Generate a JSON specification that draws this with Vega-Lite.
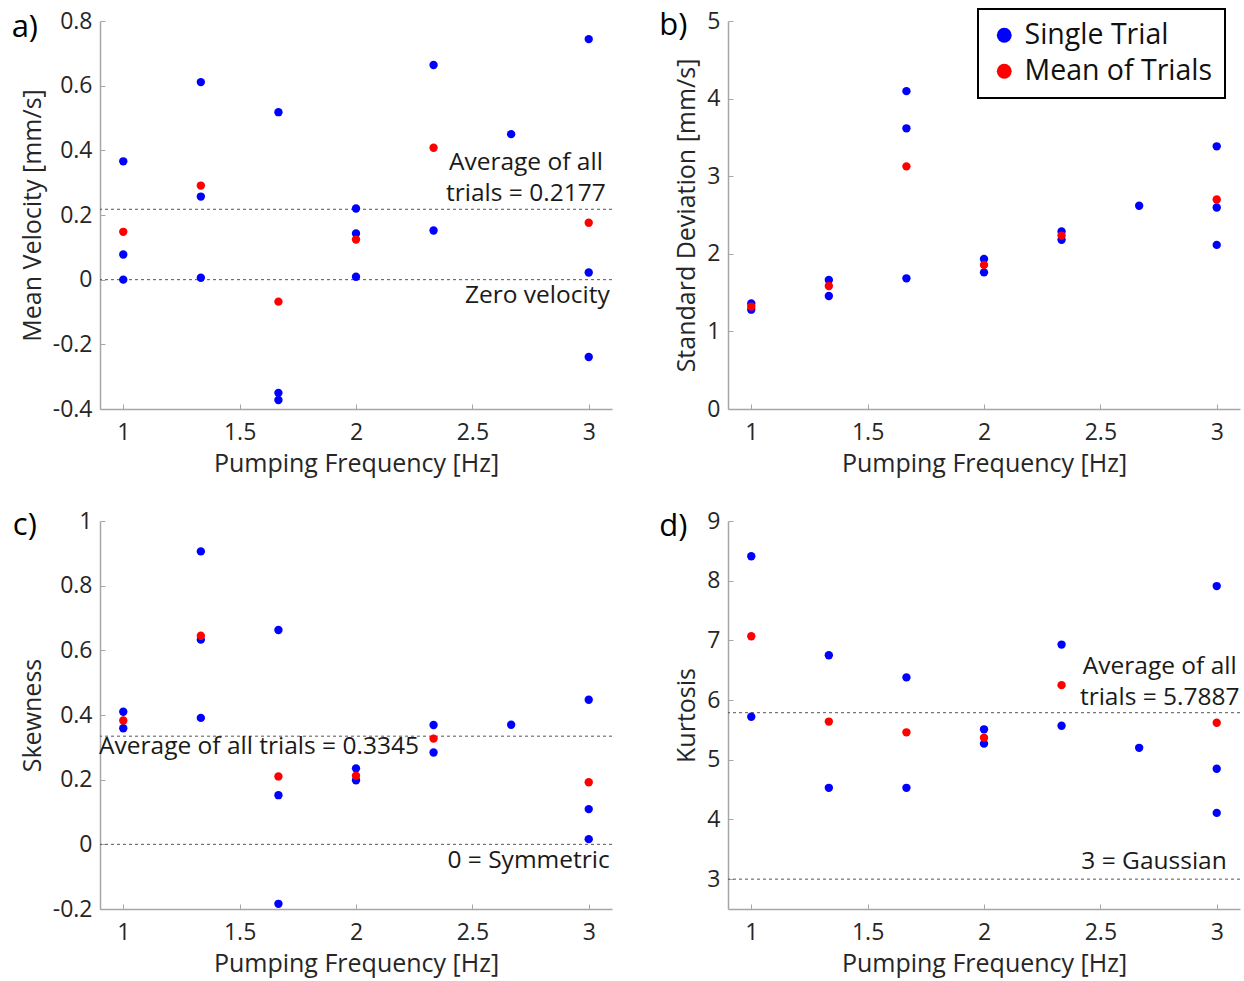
{
  "$schema": "https://vega.github.io/schema/vega-lite/v6.json",
  "autosize": {"type": "pad"},
  "padding": {"left": 11, "top": 8, "right": 4, "bottom": 4},
  "background": "white",
  "bounds": "flush",
  "columns": 2,
  "spacing": {"row": 112, "column": 116},
  "config": {
    "view": {"stroke": null},
    "font": "Open Sans",
    "axis": {
      "grid": false,
      "domainColor": "#a6a6a6",
      "domainWidth": 1.5,
      "tickColor": "#a6a6a6",
      "tickWidth": 1,
      "tickSize": -5,
      "labelColor": "#262626",
      "titleColor": "#262626",
      "labelFont": "Open Sans",
      "titleFont": "Open Sans",
      "labelFontSize": 23,
      "titleFontSize": 25,
      "titleFontWeight": "normal",
      "labelExpr": "replace(format(datum.value, '.1~f'), '\u2212', '-')"
    },
    "axisX": {"labelPadding": 17, "titlePadding": 7},
    "axisY": {"labelPadding": 13, "titlePadding": 7},
    "legend": {
      "labelFont": "Open Sans",
      "labelFontSize": 28.5,
      "labelColor": "#111111",
      "labelLimit": 400,
      "symbolType": "circle",
      "symbolSize": 220,
      "symbolStrokeWidth": 0,
      "symbolOpacity": 1,
      "strokeColor": "#000000",
      "strokeWidth": 2,
      "padding": 12,
      "rowPadding": 7,
      "labelOffset": 6
    }
  },
  "datasets": {
    "trials": [
      {"panel": "a", "f": 1, "v": 0.366, "kind": "Single Trial"},
      {"panel": "a", "f": 1, "v": 0.078, "kind": "Single Trial"},
      {"panel": "a", "f": 1, "v": 0.0, "kind": "Single Trial"},
      {"panel": "a", "f": 1.3333, "v": 0.611, "kind": "Single Trial"},
      {"panel": "a", "f": 1.3333, "v": 0.257, "kind": "Single Trial"},
      {"panel": "a", "f": 1.3333, "v": 0.006, "kind": "Single Trial"},
      {"panel": "a", "f": 1.6667, "v": 0.518, "kind": "Single Trial"},
      {"panel": "a", "f": 1.6667, "v": -0.350, "kind": "Single Trial"},
      {"panel": "a", "f": 1.6667, "v": -0.372, "kind": "Single Trial"},
      {"panel": "a", "f": 2, "v": 0.220, "kind": "Single Trial"},
      {"panel": "a", "f": 2, "v": 0.143, "kind": "Single Trial"},
      {"panel": "a", "f": 2, "v": 0.009, "kind": "Single Trial"},
      {"panel": "a", "f": 2.3333, "v": 0.664, "kind": "Single Trial"},
      {"panel": "a", "f": 2.3333, "v": 0.152, "kind": "Single Trial"},
      {"panel": "a", "f": 2.6667, "v": 0.450, "kind": "Single Trial"},
      {"panel": "a", "f": 3, "v": 0.744, "kind": "Single Trial"},
      {"panel": "a", "f": 3, "v": 0.022, "kind": "Single Trial"},
      {"panel": "a", "f": 3, "v": -0.239, "kind": "Single Trial"},
      {"panel": "a", "f": 1, "v": 0.148, "kind": "Mean of Trials"},
      {"panel": "a", "f": 1.3333, "v": 0.291, "kind": "Mean of Trials"},
      {"panel": "a", "f": 1.6667, "v": -0.068, "kind": "Mean of Trials"},
      {"panel": "a", "f": 2, "v": 0.124, "kind": "Mean of Trials"},
      {"panel": "a", "f": 2.3333, "v": 0.408, "kind": "Mean of Trials"},
      {"panel": "a", "f": 3, "v": 0.176, "kind": "Mean of Trials"},

      {"panel": "b", "f": 1, "v": 1.36, "kind": "Single Trial"},
      {"panel": "b", "f": 1, "v": 1.28, "kind": "Single Trial"},
      {"panel": "b", "f": 1.3333, "v": 1.663, "kind": "Single Trial"},
      {"panel": "b", "f": 1.3333, "v": 1.456, "kind": "Single Trial"},
      {"panel": "b", "f": 1.6667, "v": 4.096, "kind": "Single Trial"},
      {"panel": "b", "f": 1.6667, "v": 3.617, "kind": "Single Trial"},
      {"panel": "b", "f": 1.6667, "v": 1.684, "kind": "Single Trial"},
      {"panel": "b", "f": 2, "v": 1.934, "kind": "Single Trial"},
      {"panel": "b", "f": 2, "v": 1.761, "kind": "Single Trial"},
      {"panel": "b", "f": 2.3333, "v": 2.287, "kind": "Single Trial"},
      {"panel": "b", "f": 2.3333, "v": 2.18, "kind": "Single Trial"},
      {"panel": "b", "f": 2.6667, "v": 2.619, "kind": "Single Trial"},
      {"panel": "b", "f": 3, "v": 3.385, "kind": "Single Trial"},
      {"panel": "b", "f": 3, "v": 2.597, "kind": "Single Trial"},
      {"panel": "b", "f": 3, "v": 2.115, "kind": "Single Trial"},
      {"panel": "b", "f": 1, "v": 1.32, "kind": "Mean of Trials"},
      {"panel": "b", "f": 1.3333, "v": 1.585, "kind": "Mean of Trials"},
      {"panel": "b", "f": 1.6667, "v": 3.127, "kind": "Mean of Trials"},
      {"panel": "b", "f": 2, "v": 1.857, "kind": "Mean of Trials"},
      {"panel": "b", "f": 2.3333, "v": 2.235, "kind": "Mean of Trials"},
      {"panel": "b", "f": 3, "v": 2.70, "kind": "Mean of Trials"},

      {"panel": "c", "f": 1, "v": 0.41, "kind": "Single Trial"},
      {"panel": "c", "f": 1, "v": 0.359, "kind": "Single Trial"},
      {"panel": "c", "f": 1.3333, "v": 0.906, "kind": "Single Trial"},
      {"panel": "c", "f": 1.3333, "v": 0.633, "kind": "Single Trial"},
      {"panel": "c", "f": 1.3333, "v": 0.391, "kind": "Single Trial"},
      {"panel": "c", "f": 1.6667, "v": 0.663, "kind": "Single Trial"},
      {"panel": "c", "f": 1.6667, "v": 0.152, "kind": "Single Trial"},
      {"panel": "c", "f": 1.6667, "v": -0.184, "kind": "Single Trial"},
      {"panel": "c", "f": 2, "v": 0.235, "kind": "Single Trial"},
      {"panel": "c", "f": 2, "v": 0.198, "kind": "Single Trial"},
      {"panel": "c", "f": 2.3333, "v": 0.369, "kind": "Single Trial"},
      {"panel": "c", "f": 2.3333, "v": 0.284, "kind": "Single Trial"},
      {"panel": "c", "f": 2.6667, "v": 0.37, "kind": "Single Trial"},
      {"panel": "c", "f": 3, "v": 0.447, "kind": "Single Trial"},
      {"panel": "c", "f": 3, "v": 0.109, "kind": "Single Trial"},
      {"panel": "c", "f": 3, "v": 0.016, "kind": "Single Trial"},
      {"panel": "c", "f": 1, "v": 0.383, "kind": "Mean of Trials"},
      {"panel": "c", "f": 1.3333, "v": 0.645, "kind": "Mean of Trials"},
      {"panel": "c", "f": 1.6667, "v": 0.21, "kind": "Mean of Trials"},
      {"panel": "c", "f": 2, "v": 0.212, "kind": "Mean of Trials"},
      {"panel": "c", "f": 2.3333, "v": 0.327, "kind": "Mean of Trials"},
      {"panel": "c", "f": 3, "v": 0.192, "kind": "Mean of Trials"},

      {"panel": "d", "f": 1, "v": 8.41, "kind": "Single Trial"},
      {"panel": "d", "f": 1, "v": 5.72, "kind": "Single Trial"},
      {"panel": "d", "f": 1.3333, "v": 6.75, "kind": "Single Trial"},
      {"panel": "d", "f": 1.3333, "v": 4.53, "kind": "Single Trial"},
      {"panel": "d", "f": 1.6667, "v": 6.38, "kind": "Single Trial"},
      {"panel": "d", "f": 1.6667, "v": 4.53, "kind": "Single Trial"},
      {"panel": "d", "f": 2, "v": 5.51, "kind": "Single Trial"},
      {"panel": "d", "f": 2, "v": 5.27, "kind": "Single Trial"},
      {"panel": "d", "f": 2.3333, "v": 6.93, "kind": "Single Trial"},
      {"panel": "d", "f": 2.3333, "v": 5.57, "kind": "Single Trial"},
      {"panel": "d", "f": 2.6667, "v": 5.20, "kind": "Single Trial"},
      {"panel": "d", "f": 3, "v": 7.91, "kind": "Single Trial"},
      {"panel": "d", "f": 3, "v": 4.85, "kind": "Single Trial"},
      {"panel": "d", "f": 3, "v": 4.11, "kind": "Single Trial"},
      {"panel": "d", "f": 1, "v": 7.07, "kind": "Mean of Trials"},
      {"panel": "d", "f": 1.3333, "v": 5.64, "kind": "Mean of Trials"},
      {"panel": "d", "f": 1.6667, "v": 5.46, "kind": "Mean of Trials"},
      {"panel": "d", "f": 2, "v": 5.37, "kind": "Mean of Trials"},
      {"panel": "d", "f": 2.3333, "v": 6.25, "kind": "Mean of Trials"},
      {"panel": "d", "f": 3, "v": 5.62, "kind": "Mean of Trials"}
    ],
    "refs": [
      {"panel": "a", "v": 0.2177},
      {"panel": "a", "v": 0},
      {"panel": "c", "v": 0.3345},
      {"panel": "c", "v": 0},
      {"panel": "d", "v": 5.7887},
      {"panel": "d", "v": 3}
    ],
    "one": [{}]
  },
  "concat": [
    {
      "width": 512,
      "height": 388,
      "layer": [
        {
          "data": {"name": "refs"},
          "transform": [{"filter": "datum.panel === 'a'"}],
          "mark": {"type": "rule", "strokeDash": [3, 3], "color": "#555555", "strokeWidth": 1},
          "encoding": {"y": {"field": "v", "type": "quantitative"}}
        },
        {
          "data": {"name": "trials"},
          "transform": [{"filter": "datum.panel === 'a'"}],
          "mark": {"type": "circle", "size": 70, "opacity": 1},
          "encoding": {
            "x": {"field": "f", "type": "quantitative", "scale": {"domain": [0.9, 3.1], "nice": false, "zero": false},
                  "axis": {"title": "Pumping Frequency [Hz]", "values": [1, 1.5, 2, 2.5, 3]}},
            "y": {"field": "v", "type": "quantitative", "scale": {"domain": [-0.4, 0.8], "nice": false, "zero": false},
                  "axis": {"title": "Mean Velocity [mm/s]", "values": [-0.4, -0.2, 0, 0.2, 0.4, 0.6, 0.8]}},
            "color": {"field": "kind", "type": "nominal", "scale": {"domain": ["Single Trial", "Mean of Trials"], "range": ["#0000ff", "#ff0000"]}, "legend": null}
          }
        },
        {
          "data": {"name": "one"},
          "mark": {"type": "text", "fontSize": 24.5, "color": "#1a1a1a", "align": "center", "baseline": "bottom", "dy": -34, "lineHeight": 31},
          "encoding": {"x": {"datum": 2.73, "type": "quantitative"}, "y": {"datum": 0.2177, "type": "quantitative"}, "text": {"value": ["Average of all", "trials = 0.2177"]}}
        },
        {
          "data": {"name": "one"},
          "mark": {"type": "text", "fontSize": 24.5, "color": "#1a1a1a", "align": "right", "baseline": "top", "dy": 4},
          "encoding": {"x": {"datum": 3.09, "type": "quantitative"}, "y": {"datum": 0, "type": "quantitative"}, "text": {"value": "Zero velocity"}}
        },
        {
          "data": {"name": "one"},
          "mark": {"type": "text", "fontSize": 31, "color": "#000000", "align": "center", "baseline": "middle"},
          "encoding": {"x": {"datum": 0.577, "type": "quantitative"}, "y": {"datum": 0.778, "type": "quantitative"}, "text": {"value": "a)"}}
        }
      ]
    },
    {
      "width": 512,
      "height": 388,
      "layer": [
        {
          "data": {"name": "trials"},
          "transform": [{"filter": "datum.panel === 'b'"}],
          "mark": {"type": "circle", "size": 70, "opacity": 1},
          "encoding": {
            "x": {"field": "f", "type": "quantitative", "scale": {"domain": [0.9, 3.1], "nice": false, "zero": false},
                  "axis": {"title": "Pumping Frequency [Hz]", "values": [1, 1.5, 2, 2.5, 3]}},
            "y": {"field": "v", "type": "quantitative", "scale": {"domain": [0, 5], "nice": false, "zero": false},
                  "axis": {"title": "Standard Deviation [mm/s]", "values": [0, 1, 2, 3, 4, 5]}},
            "color": {"field": "kind", "type": "nominal", "scale": {"domain": ["Single Trial", "Mean of Trials"], "range": ["#0000ff", "#ff0000"]},
                      "legend": {"title": null, "orient": "none", "legendX": 250, "legendY": -12}}
          }
        },
        {
          "data": {"name": "one"},
          "mark": {"type": "text", "fontSize": 31, "color": "#000000", "align": "center", "baseline": "middle"},
          "encoding": {"x": {"datum": 0.665, "type": "quantitative"}, "y": {"datum": 4.93, "type": "quantitative"}, "text": {"value": "b)"}}
        }
      ]
    },
    {
      "width": 512,
      "height": 388,
      "layer": [
        {
          "data": {"name": "refs"},
          "transform": [{"filter": "datum.panel === 'c'"}],
          "mark": {"type": "rule", "strokeDash": [3, 3], "color": "#555555", "strokeWidth": 1},
          "encoding": {"y": {"field": "v", "type": "quantitative"}}
        },
        {
          "data": {"name": "trials"},
          "transform": [{"filter": "datum.panel === 'c'"}],
          "mark": {"type": "circle", "size": 70, "opacity": 1},
          "encoding": {
            "x": {"field": "f", "type": "quantitative", "scale": {"domain": [0.9, 3.1], "nice": false, "zero": false},
                  "axis": {"title": "Pumping Frequency [Hz]", "values": [1, 1.5, 2, 2.5, 3]}},
            "y": {"field": "v", "type": "quantitative", "scale": {"domain": [-0.2, 1], "nice": false, "zero": false},
                  "axis": {"title": "Skewness", "values": [-0.2, 0, 0.2, 0.4, 0.6, 0.8, 1]}},
            "color": {"field": "kind", "type": "nominal", "scale": {"domain": ["Single Trial", "Mean of Trials"], "range": ["#0000ff", "#ff0000"]}, "legend": null}
          }
        },
        {
          "data": {"name": "one"},
          "mark": {"type": "text", "fontSize": 24.5, "color": "#1a1a1a", "align": "left", "baseline": "top", "dy": -1},
          "encoding": {"x": {"datum": 0.896, "type": "quantitative"}, "y": {"datum": 0.3345, "type": "quantitative"}, "text": {"value": "Average of all trials = 0.3345"}}
        },
        {
          "data": {"name": "one"},
          "mark": {"type": "text", "fontSize": 24.5, "color": "#1a1a1a", "align": "right", "baseline": "top", "dy": 5},
          "encoding": {"x": {"datum": 3.09, "type": "quantitative"}, "y": {"datum": 0, "type": "quantitative"}, "text": {"value": "0 = Symmetric"}}
        },
        {
          "data": {"name": "one"},
          "mark": {"type": "text", "fontSize": 31, "color": "#000000", "align": "center", "baseline": "middle"},
          "encoding": {"x": {"datum": 0.577, "type": "quantitative"}, "y": {"datum": 0.985, "type": "quantitative"}, "text": {"value": "c)"}}
        }
      ]
    },
    {
      "width": 512,
      "height": 388,
      "layer": [
        {
          "data": {"name": "refs"},
          "transform": [{"filter": "datum.panel === 'd'"}],
          "mark": {"type": "rule", "strokeDash": [3, 3], "color": "#555555", "strokeWidth": 1},
          "encoding": {"y": {"field": "v", "type": "quantitative"}}
        },
        {
          "data": {"name": "trials"},
          "transform": [{"filter": "datum.panel === 'd'"}],
          "mark": {"type": "circle", "size": 70, "opacity": 1},
          "encoding": {
            "x": {"field": "f", "type": "quantitative", "scale": {"domain": [0.9, 3.1], "nice": false, "zero": false},
                  "axis": {"title": "Pumping Frequency [Hz]", "values": [1, 1.5, 2, 2.5, 3]}},
            "y": {"field": "v", "type": "quantitative", "scale": {"domain": [2.5, 9], "nice": false, "zero": false},
                  "axis": {"title": "Kurtosis", "values": [3, 4, 5, 6, 7, 8, 9]}},
            "color": {"field": "kind", "type": "nominal", "scale": {"domain": ["Single Trial", "Mean of Trials"], "range": ["#0000ff", "#ff0000"]}, "legend": null}
          }
        },
        {
          "data": {"name": "one"},
          "mark": {"type": "text", "fontSize": 24.5, "color": "#1a1a1a", "align": "center", "baseline": "bottom", "dy": -34, "lineHeight": 31},
          "encoding": {"x": {"datum": 2.755, "type": "quantitative"}, "y": {"datum": 5.7887, "type": "quantitative"}, "text": {"value": ["Average of all", "trials = 5.7887"]}}
        },
        {
          "data": {"name": "one"},
          "mark": {"type": "text", "fontSize": 24.5, "color": "#1a1a1a", "align": "right", "baseline": "bottom", "dy": -5},
          "encoding": {"x": {"datum": 3.043, "type": "quantitative"}, "y": {"datum": 3, "type": "quantitative"}, "text": {"value": "3 = Gaussian"}}
        },
        {
          "data": {"name": "one"},
          "mark": {"type": "text", "fontSize": 31, "color": "#000000", "align": "center", "baseline": "middle"},
          "encoding": {"x": {"datum": 0.665, "type": "quantitative"}, "y": {"datum": 8.9, "type": "quantitative"}, "text": {"value": "d)"}}
        }
      ]
    }
  ],
  "resolve": {"scale": {"x": "independent", "y": "independent", "color": "independent"}, "legend": {"color": "independent"}}
}
